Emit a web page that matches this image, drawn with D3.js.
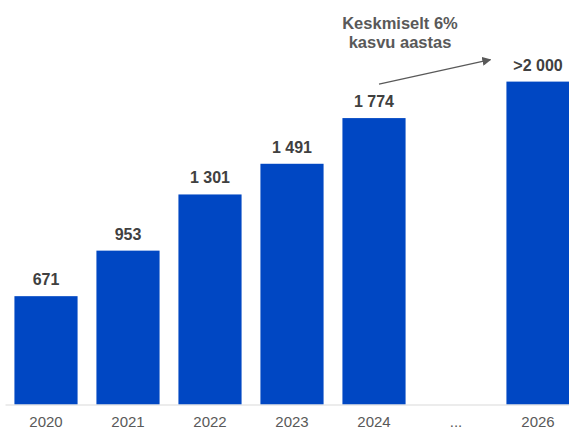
<!DOCTYPE html>
<html>
<head>
<meta charset="utf-8">
<script src="https://cdn.jsdelivr.net/npm/d3@7"></script>
<style>
    body { margin: 0; background: #fff; }
    svg { display: block; font-family: "Liberation Sans", Arial, sans-serif; }
</style>
</head>
<body>
<svg id="chart" width="569" height="428"></svg>
<script>
// categories along the axis ("..." is an empty slot)
const years = ["2020", "2021", "2022", "2023", "2024", "...", "2026"];
// bar values, null where there is no bar
const values = [671, 953, 1301, 1491, 1774, null, 2000];
// text shown above each bar
const valueLabels = ["671", "953", "1 301", "1 491", "1 774", "", ">2 000"];
// growth note
const noteLines = ["Keskmiselt 6%", "kasvu aastas"];

const svg = d3.select("#chart");
const baseline = 404.5;

const x = d3.scaleBand()
    .domain(years)
    .range([5, 579])
    .paddingInner(0.23)
    .paddingOuter(0.115);

const y = d3.scaleLinear()
    .domain([0, 2000])
    .range([baseline, 81.6]);

// arrow marker
svg.append("defs").append("marker")
    .attr("id", "arrowhead")
    .attr("viewBox", "0 0 10 10")
    .attr("refX", 9).attr("refY", 5)
    .attr("markerWidth", 9).attr("markerHeight", 9)
    .attr("markerUnits", "userSpaceOnUse")
    .attr("orient", "auto")
    .append("path")
    .attr("d", "M0,0L10,5L0,10Z")
    .attr("fill", "#595959");

const data = years.map((year, i) => ({year: year, value: values[i], label: valueLabels[i]}))
    .filter(d => d.value != null);

//bars
svg.selectAll(".bar")
    .data(data)
    .enter().append("rect")
    .attr("class", "bar")
    .attr("x", d => x(d.year))
    .attr("y", d => y(d.value))
    .attr("width", x.bandwidth())
    .attr("height", d => baseline - y(d.value))
    .attr("fill", "#0047c3");

//value labels
svg.selectAll(".value")
    .data(data)
    .enter().append("text")
    .attr("class", "value")
    .attr("x", d => x(d.year) + x.bandwidth() / 2)
    .attr("y", d => y(d.value) - 11)
    .attr("text-anchor", "middle")
    .attr("font-size", 16)
    .attr("font-weight", "bold")
    .attr("fill", "#404040")
    .text(d => d.label);

//x axis
const axis = svg.append("g")
    .attr("transform", "translate(0," + baseline + ")")
    .call(d3.axisBottom(x).tickSize(0).tickPadding(12));

axis.select(".domain").attr("stroke", "#d9d9d9").attr("stroke-width", 1);
axis.selectAll("text")
    .attr("font-size", 15)
    .attr("font-family", "Liberation Sans, Arial, sans-serif")
    .attr("fill", "#595959");

//growth arrow, placed from the 2024 and 2026 bars
const x0 = x("2024") + x.bandwidth() / 2 + 5;
const y0 = y(1774) - 34;
const x1 = x("2026") - 16;
const y1 = y(2000) - 22;

svg.append("line")
    .attr("x1", x0).attr("y1", y0)
    .attr("x2", x1).attr("y2", y1)
    .attr("stroke", "#595959")
    .attr("stroke-width", 1.2)
    .attr("marker-end", "url(#arrowhead)");

svg.append("text")
    .attr("text-anchor", "middle")
    .attr("font-size", 16.5)
    .attr("font-weight", "bold")
    .attr("fill", "#595959")
    .selectAll("tspan")
    .data(noteLines)
    .enter().append("tspan")
    .attr("x", 400)
    .attr("y", (d, i) => 29 + i * 18.5)
    .text(d => d);
</script>
</body>
</html>
